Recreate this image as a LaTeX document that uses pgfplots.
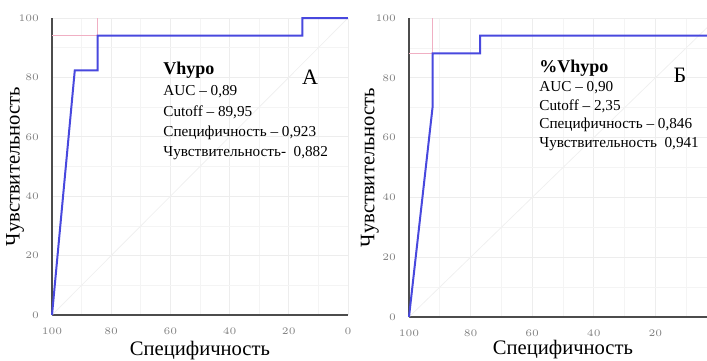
\documentclass[border=0pt]{standalone}
\usepackage{fontspec}
\setmainfont{Liberation Serif}
\usepackage{pgfplots}
\pgfplotsset{compat=1.18}
\definecolor{roc}{RGB}{72,72,222}
\definecolor{cut}{RGB}{240,175,195}
\pgfplotsset{
  rocaxis/.style={
    scale only axis,
    x dir=reverse,
    xmin=0, xmax=100, ymin=0, ymax=100,
    ytick={0,20,...,100},
    minor ytick={10,30,...,90},
    minor xtick={10,30,...,90},
    grid=both,
    major grid style={gray!14, line width=0.4pt},
    minor grid style={gray!9, line width=0.4pt},
    major tick length=0pt, minor tick length=0pt,
    axis x line*=bottom, axis y line*=left,
    axis line style={gray!60!black, line width=0.7pt, -},
    tick label style={font=\fontsize{2.6}{2.6}\selectfont, text=gray},
    xticklabel style={yshift=-3pt},
    yticklabel style={xshift=-3pt},
    label style={font=\fontsize{10.3}{11}\selectfont},
    clip=false,
  }
}
\begin{document}
\begin{tikzpicture}
\useasboundingbox (0,0) rectangle (353.5pt,180pt);
% Panel A
\begin{axis}[rocaxis, at={(26pt,22.5pt)}, anchor=south west,
  width=148pt, height=148.5pt,
  xtick={0,20,...,100},
  xlabel={Специфичность}, ylabel={Чувствительность},
  xlabel style={at={(axis description cs:0.5,-0.118)}, anchor=center},
  ylabel style={at={(axis description cs:-0.125,0.5)}, anchor=center, rotate=0}]
\addplot[gray!12, line width=0.4pt] coordinates {(100,0) (0,100)};
\addplot[cut, line width=0.5pt] coordinates {(100,94.1) (84.6,94.1) (84.6,100)};
\addplot[roc, line width=1pt] coordinates {
  (100,0) (92.3,82.4) (84.6,82.4) (84.6,94.1) (15.4,94.1) (15.4,100) (0,100)};
\end{axis}
% Panel B
\begin{axis}[rocaxis, at={(204.5pt,21.5pt)}, anchor=south west,
  width=154pt, height=149.5pt,
  xtick={20,40,...,100},
  xlabel={Специфичность}, ylabel={Чувствительность},
  xlabel style={at={(axis description cs:0.5,-0.110)}, anchor=center},
  ylabel style={at={(axis description cs:-0.127,0.5)}, anchor=center, rotate=0}]
\addplot[gray!12, line width=0.4pt] coordinates {(100,0) (0,100)};
\addplot[cut, line width=0.5pt] coordinates {(100,88.2) (92.3,88.2) (92.3,100)};
\addplot[roc, line width=1pt] coordinates {
  (100,0) (92.3,70.6) (92.3,88.2) (76.9,88.2) (76.9,94.1) (0,94.1)};
\end{axis}
% Annotations
\begin{scope}[every node/.style={anchor=west, inner sep=0pt, font=\fontsize{7.6}{8}\selectfont}]
\node[font=\fontsize{9}{10}\selectfont\bfseries] at (81.5pt,145pt) {Vhypo};
\node at (81.5pt,134pt) {AUC – 0,89};
\node at (81.5pt,124pt) {Cutoff – 89,95};
\node at (81.5pt,113.5pt) {Специфичность – 0,923};
\node at (81.5pt,103.5pt) {Чувствительность-\ \ 0,882};
\node[anchor=center, font=\fontsize{11}{12}\selectfont] at (155pt,141.5pt) {А};
\node[font=\fontsize{9}{10}\selectfont\bfseries] at (269.5pt,146pt) {\%Vhypo};
\node at (269.5pt,136pt) {AUC – 0,90};
\node at (269.5pt,127pt) {Cutoff – 2,35};
\node at (269.5pt,117.5pt) {Специфичность – 0,846};
\node at (269.5pt,108pt) {Чувствительность\ \ 0,941};
\node[anchor=center, font=\fontsize{11}{12}\selectfont] at (340pt,142.5pt) {Б};
\end{scope}
\end{tikzpicture}
\end{document}
